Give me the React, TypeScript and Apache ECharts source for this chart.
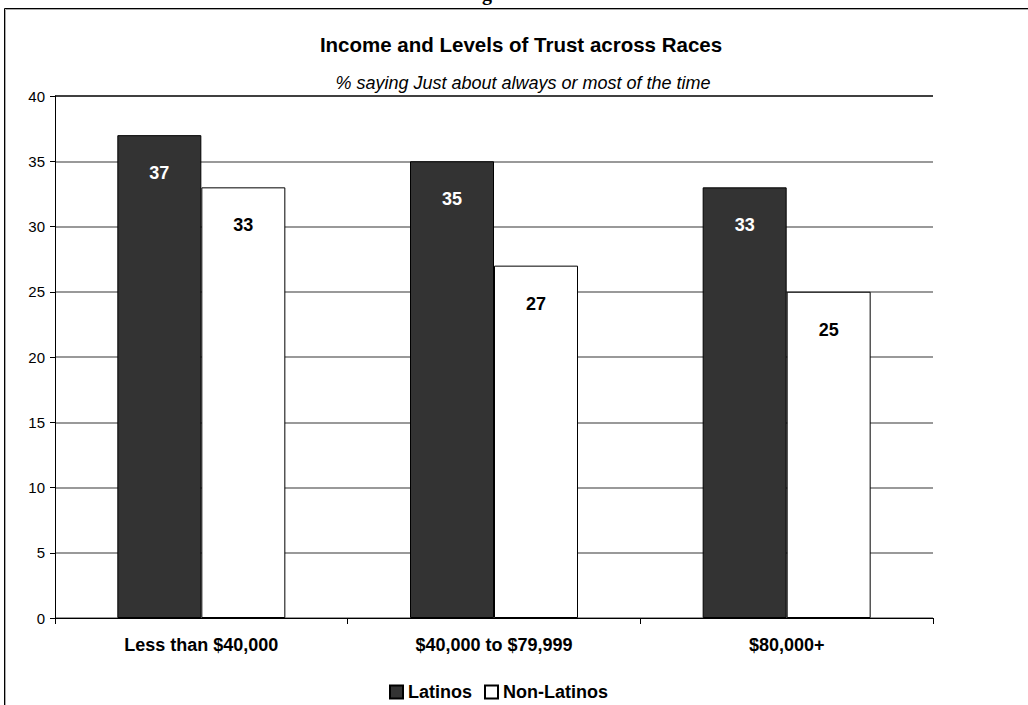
import React, { useEffect, useRef } from "react";
import * as echarts from "echarts";

const categories = ["Less than $40,000", "$40,000 to $79,999", "$80,000+"];
const latinos = [37, 35, 33];
const nonLatinos = [33, 27, 25];
const seriesNames = ["Latinos", "Non-Latinos"];
const titleText = "Income and Levels of Trust across Races";
const subtitleText = "% saying Just about always or most of the time";

const FONT = "'Liberation Sans', Arial, sans-serif";

export default function App() {
  const ref = useRef<HTMLDivElement>(null);
  useEffect(() => {
    if (!ref.current) return;
    const chart = echarts.init(ref.current, null, { renderer: "svg" });
    const gridColors = ["#777", "#777", "#777", "#777", "#777", "#777", "#777", "#777", "#000"];
    chart.setOption({
      animation: false,
      backgroundColor: "#fff",
      textStyle: { fontFamily: FONT },
      graphic: [
        {
          type: "text",
          left: 482,
          top: -17,
          style: { text: "g", font: "bold 20px 'Liberation Serif', serif", fill: "#000" },
        },
        {
          type: "rect",
          shape: { x: 5.5, y: 9.5, width: 1100, height: 800 },
          style: { fill: "none", stroke: "#aaa", lineWidth: 1 },
          silent: true,
        },
        {
          type: "rect",
          shape: { x: 4.5, y: 8.5, width: 1100, height: 800 },
          style: { fill: "none", stroke: "#000", lineWidth: 1 },
          silent: true,
        },
        {
          type: "text",
          x: 521,
          y: 34,
          style: {
            text: titleText,
            font: `bold 20.5px ${FONT}`,
            fill: "#000",
            align: "center",
            verticalAlign: "top",
          },
        },
        {
          type: "text",
          x: 523,
          y: 74,
          style: {
            text: subtitleText,
            font: `italic 18px ${FONT}`,
            fill: "#000",
            align: "center",
            verticalAlign: "top",
          },
        },
      ],
      legend: {
        left: 384,
        top: 678,
        itemWidth: 13,
        itemHeight: 13,
        itemGap: 12,
        icon: "rect",
        textStyle: { fontFamily: FONT, fontSize: 18, fontWeight: "bold", color: "#000" },
        data: seriesNames,
      },
      grid: { left: 55, right: 95, top: 96, bottom: 87, containLabel: false },
      xAxis: {
        type: "category",
        data: categories,
        axisLine: { lineStyle: { color: "#000", width: 1 } },
        axisTick: { show: true, length: 6, alignWithLabel: false, lineStyle: { color: "#000" } },
        axisLabel: {
          margin: 18,
          fontFamily: FONT,
          fontSize: 18,
          fontWeight: "bold",
          color: "#000",
        },
      },
      yAxis: {
        type: "value",
        min: 0,
        max: 40,
        interval: 5,
        axisLine: { show: true, lineStyle: { color: "#000", width: 1 } },
        axisTick: { show: true, length: 5, lineStyle: { color: "#000" } },
        axisLabel: { margin: 10, fontFamily: FONT, fontSize: 15, color: "#000" },
        splitLine: { show: true, lineStyle: { color: gridColors, width: 1.5 } },
      },
      series: [
        {
          name: seriesNames[0],
          type: "bar",
          data: latinos,
          barWidth: 84,
          barGap: "0%",
          itemStyle: { color: "#333333", borderColor: "#000", borderWidth: 1 },
          label: {
            show: true,
            position: "insideTop",
            distance: 29,
            color: "#fff",
            fontFamily: FONT,
            fontSize: 18,
            fontWeight: "bold",
          },
        },
        {
          name: seriesNames[1],
          type: "bar",
          data: nonLatinos,
          barWidth: 84,
          barGap: "0%",
          itemStyle: { color: "#ffffff", borderColor: "#000", borderWidth: 1 },
          label: {
            show: true,
            position: "insideTop",
            distance: 29,
            color: "#000",
            fontFamily: FONT,
            fontSize: 18,
            fontWeight: "bold",
          },
        },
      ],
    });
    return () => chart.dispose();
  }, []);
  return (
    <div
      ref={ref}
      style={{ position: "fixed", left: 0, top: 0, width: 1028, height: 705 }}
    />
  );
}
